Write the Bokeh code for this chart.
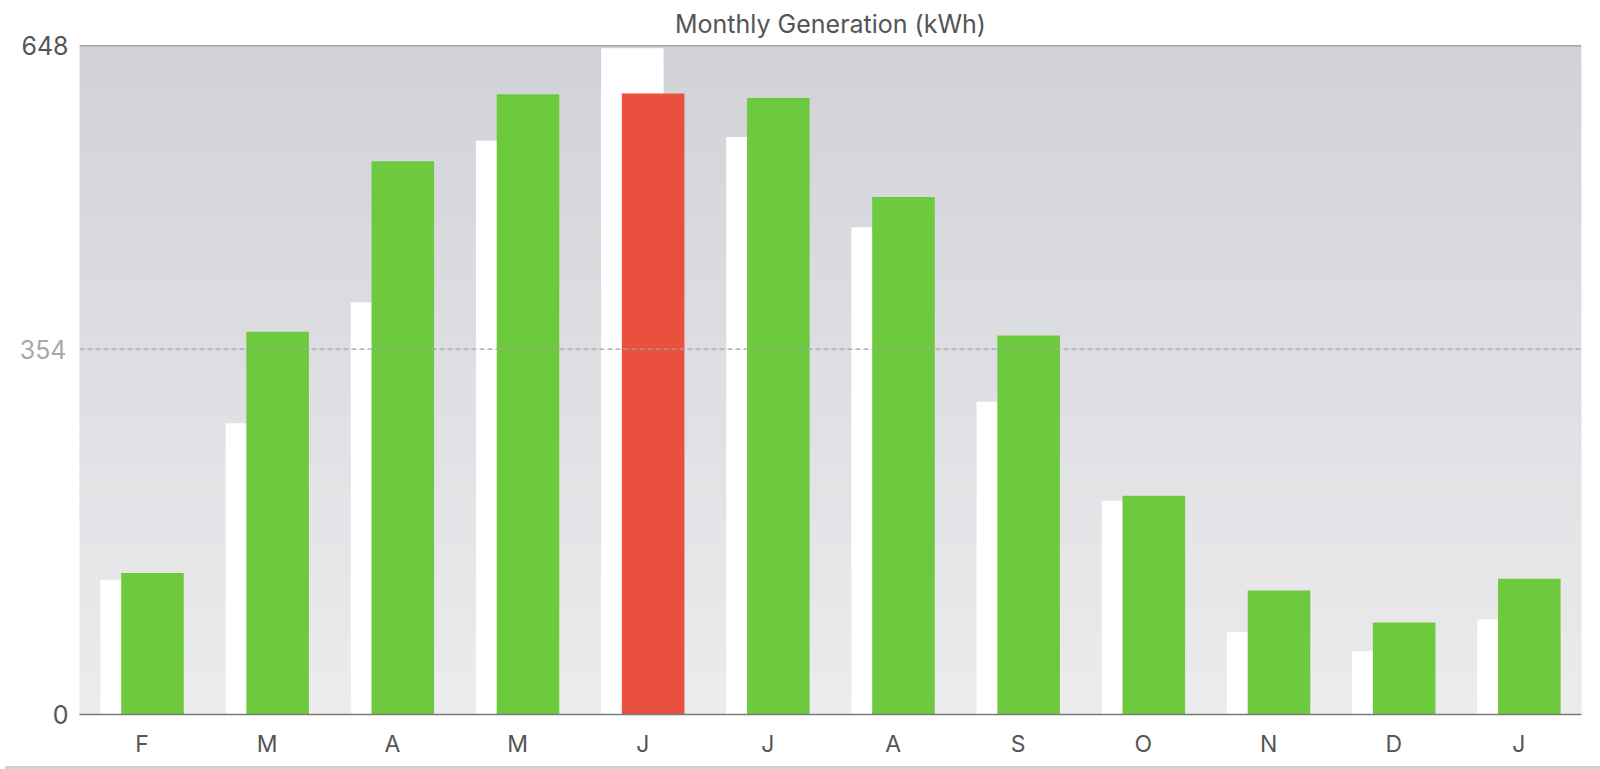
from bokeh.plotting import figure
from bokeh.models import Range1d, FixedTicker, Span, LinearAxis, BoxAnnotation, Div, ColumnDataSource
from bokeh.layouts import column
from bokeh.embed import file_html
from bokeh.resources import INLINE

# ---- data ----
months = ["F", "M", "A", "M", "J", "J", "A", "S", "O", "N", "D", "J"]
previous_year = [130.6, 282.1, 399.4, 555.8, 645.4, 559.3, 472.0, 303.0, 207.0, 79.6, 61.2, 91.9]
this_year = [137.0, 370.7, 535.8, 600.9, 601.6, 597.1, 501.3, 367.2, 211.8, 120.2, 89.0, 131.5]
highlight_index = 4
y_max = 648
y_mid = 354

GREEN = "#6dca3e"
RED = "#e9503e"
TXT = "#555555"
FONT = "Inter"

xs = list(range(len(months)))
colors = [RED if i == highlight_index else GREEN for i in xs]

src = ColumnDataSource(dict(
    x_prev=[x - 0.083 for x in xs],
    x_cur=[x + 0.083 for x in xs],
    prev=previous_year,
    cur=this_year,
    color=colors,
))

p = figure(width=1600, height=761, output_backend="svg", toolbar_location=None,
           x_range=Range1d(-0.5, len(months) - 0.5), y_range=Range1d(0, y_max),
           min_border_left=79, min_border_right=19, min_border_top=44, min_border_bottom=47,
           title="Monthly Generation (kWh)")
p.outline_line_color = None
p.background_fill_color = "#ececee"
p.border_fill_color = "white"

# vertical gradient background
top_rgb = (209, 210, 216)
bot_rgb = (236, 236, 238)
n_bands = 48
for i in range(n_bands):
    t = (i + 0.5) / n_bands
    c = tuple(int(round(bot_rgb[k] + (top_rgb[k] - bot_rgb[k]) * t)) for k in range(3))
    p.add_layout(BoxAnnotation(bottom=y_max * i / n_bands, top=y_max * (i + 1) / n_bands + 0.5,
                               fill_color="#%02x%02x%02x" % c, fill_alpha=1.0,
                               line_color=None, level="underlay"))

p.title.align = "center"
p.title.text_font = FONT
p.title.text_font_size = "25px"
p.title.text_font_style = "normal"
p.title.text_color = TXT
p.title.standoff = 13

p.vbar(x="x_prev", top="prev", width=0.5, source=src, fill_color="white", line_color=None)
p.vbar(x="x_cur", top="cur", width=0.5, source=src, fill_color="color", line_color=None)

p.add_layout(Span(location=y_mid, dimension="width", line_color="#a3a3a6",
                  line_dash="5 3", line_width=1.2))
p.add_layout(Span(location=y_max, dimension="width", line_color="#6e6e6e", line_width=1.5))

p.xgrid.grid_line_color = None
p.ygrid.grid_line_color = None

p.xaxis.ticker = FixedTicker(ticks=xs)
p.xaxis.major_label_overrides = {i: m for i, m in enumerate(months)}
p.xaxis.axis_line_color = "#7a7a7a"
p.xaxis.axis_line_width = 1.5
p.xaxis.major_tick_line_color = None
p.xaxis.minor_tick_line_color = None
p.xaxis.major_label_text_font = FONT
p.xaxis.major_label_text_font_size = "23px"
p.xaxis.major_label_text_color = TXT
p.xaxis.major_label_standoff = 9

# inner axis: the middle reference value, light grey
p.yaxis.ticker = FixedTicker(ticks=[y_mid])
p.yaxis.axis_line_color = None
p.yaxis.major_tick_line_color = None
p.yaxis.minor_tick_line_color = None
p.yaxis.major_label_text_font = FONT
p.yaxis.major_label_text_font_size = "25px"
p.yaxis.major_label_text_color = "#a8a8a8"
p.yaxis.major_label_standoff = 7

# outer axis: min / max, dark grey, pulled in over the inner one
outer = LinearAxis(ticker=FixedTicker(ticks=[0, y_max]))
outer.axis_line_color = None
outer.major_tick_line_color = None
outer.minor_tick_line_color = None
outer.major_label_text_font = FONT
outer.major_label_text_font_size = "25px"
outer.major_label_text_color = TXT
outer.major_label_standoff = -58
p.add_layout(outer, "left")

band = Div(text="", width=1600, height=12, styles={"background-color": "#d1d1d6"})

layout = column(p, band, spacing=0)
open("out.html", "w").write(file_html(layout, INLINE))
